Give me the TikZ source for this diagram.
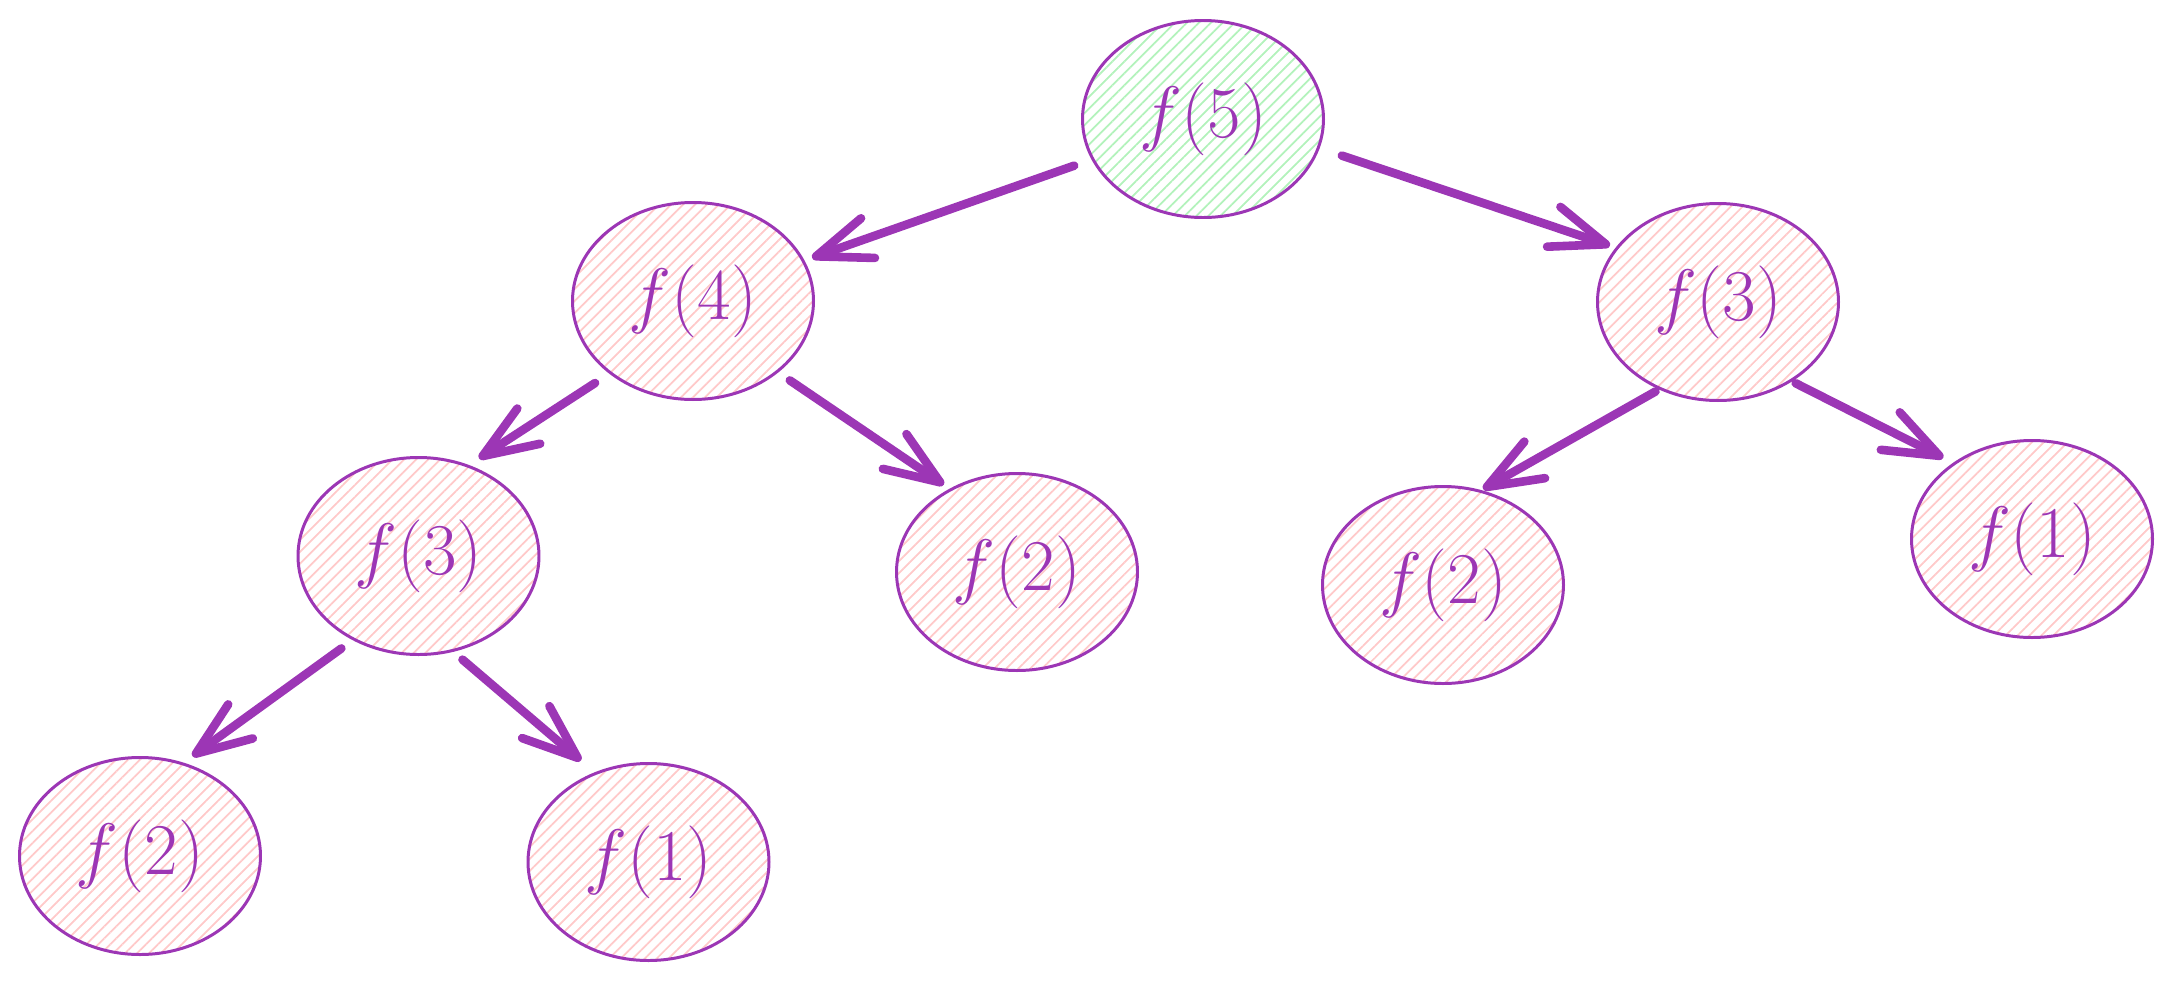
\documentclass[tikz,border=0pt]{standalone}
\usepackage{xcolor}
\usepackage{tikz}
\usetikzlibrary{shapes.geometric,arrows.meta,patterns.meta}

\definecolor{callpurple}{HTML}{9C36B5}
\definecolor{hatchgreen}{HTML}{B2F2BB}
\definecolor{hatchred}{HTML}{FFC9C9}

\begin{document}
\begin{tikzpicture}[
  call/.style={ellipse, draw=callpurple, line width=0.85pt, minimum width=2.41cm,
    minimum height=1.97cm, inner sep=0pt, text=callpurple,
    font=\fontsize{20}{24}\selectfont},
  rootcall/.style={call, pattern={Lines[angle=45, distance=2.4pt, line width=0.5pt]},
    pattern color=hatchgreen},
  subcall/.style={call, pattern={Lines[angle=45, distance=2.4pt, line width=0.5pt]},
    pattern color=hatchred},
  callarrow/.style={draw=callpurple, line width=2.45pt, line cap=round,
    -{Straight Barb[length=0.55cm, width=0.42cm, round]}}
]
  \useasboundingbox (0, 0) rectangle (21.73, 9.83);

  % level 0
  \node[rootcall] (f5) at (12.03, 8.64) {$f(5)$};

  % level 1
  \node[subcall] (f4) at (6.93, 6.82) {$f(4)$};
  \node[subcall] (f3r) at (17.18, 6.81) {$f(3)$};

  % level 2
  \node[subcall] (f3l) at (4.185, 4.27) {$f(3)$};
  \node[subcall] (f2m) at (10.17, 4.11) {$f(2)$};
  \node[subcall] (f2r) at (14.43, 3.98) {$f(2)$};
  \node[subcall] (f1r) at (20.32, 4.44) {$f(1)$};

  % level 3
  \node[subcall] (f2b) at (1.40, 1.27) {$f(2)$};
  \node[subcall] (f1b) at (6.485, 1.21) {$f(1)$};

  % calls
  \draw[callarrow, shorten <=0.19cm, shorten >=0.08cm] (f5.200) -- (f4.20);
  \draw[callarrow, shorten <=0.24cm, shorten >=0.06cm] (f5.-14) -- (f3r.152);
  \draw[callarrow, shorten <=0.17cm, shorten >=0.12cm] (f4.221) -- (f3l.61);
  \draw[callarrow, shorten <=0.14cm, shorten >=0.07cm] (f4.-40) -- (f2m.129);
  \draw[callarrow, shorten <=0.04cm, shorten >=0.02cm] (f3r.236) -- (f2r.68);
  \draw[callarrow, shorten <=0.04cm, shorten >=0.11cm] (f3r.-47) -- (f1r.136);
  \draw[callarrow, shorten <=0.14cm, shorten >=0.11cm] (f3l.232) -- (f2b.65);
  \draw[callarrow, shorten <=0.12cm, shorten >=0.18cm] (f3l.-70) -- (f1b.121);
\end{tikzpicture}
\end{document}
